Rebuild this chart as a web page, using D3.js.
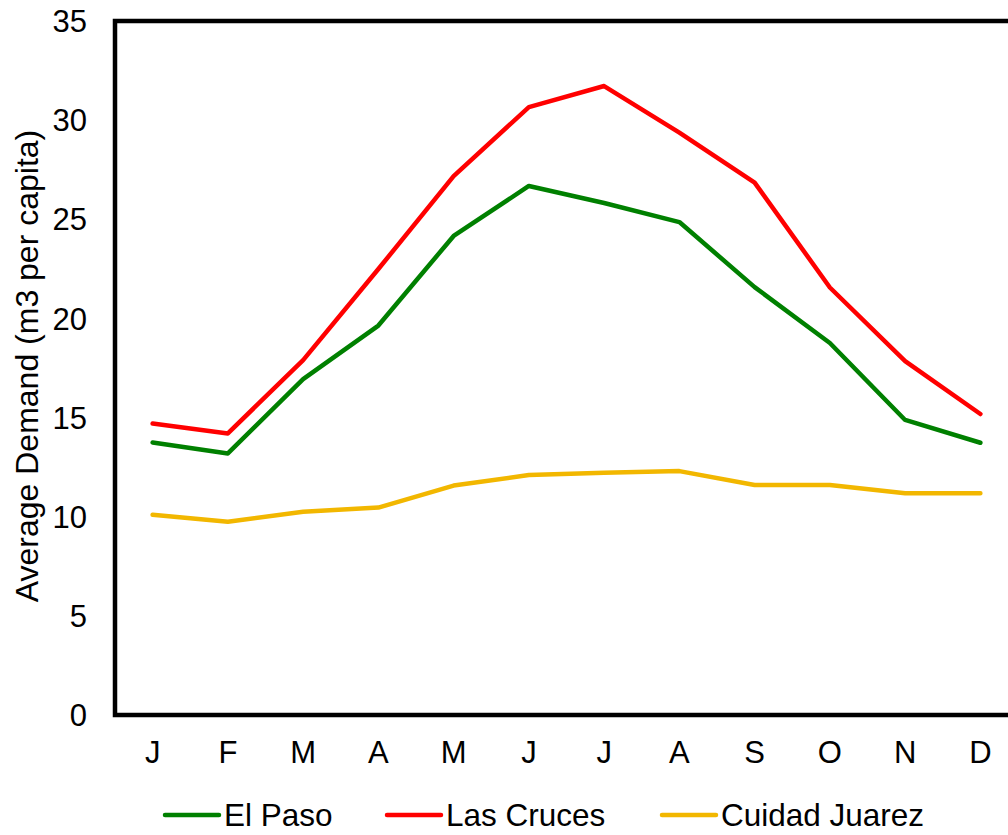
<!DOCTYPE html>
<html>
<head>
<meta charset="utf-8">
<script src="https://d3js.org/d3.v7.min.js"></script>
<style>
  html, body { margin: 0; padding: 0; background: #fff; }
  svg { display: block; font-family: "Liberation Sans", Arial, sans-serif; }
</style>
</head>
<body>
<svg id="chart" width="1008" height="835"></svg>
<script>
// Data
const months = ['J', 'F', 'M', 'A', 'M', 'J', 'J', 'A', 'S', 'O', 'N', 'D'];
const elPaso = [13.74, 13.19, 16.94, 19.64, 24.16, 26.68, 25.82, 24.86, 21.58, 18.76, 14.88, 13.73];
const lasCruces = [14.70, 14.20, 17.90, 22.49, 27.18, 30.66, 31.72, 29.37, 26.85, 21.56, 17.85, 15.18];
const juarez = [10.10, 9.75, 10.25, 10.46, 11.57, 12.10, 12.22, 12.30, 11.60, 11.60, 11.18, 11.18];
const yTicks = [0, 5, 10, 15, 20, 25, 30, 35];

const series = [
  { name: 'El Paso', values: elPaso, color: '#008000' },
  { name: 'Las Cruces', values: lasCruces, color: '#ff0000' },
  { name: 'Cuidad Juarez', values: juarez, color: '#f2b700' }
];

// Layout
const plot = { left: 115, right: 1018, top: 21, bottom: 715 };
const svg = d3.select('#chart');

const x = d3.scalePoint()
  .domain(d3.range(months.length))
  .range([plot.left, plot.right])
  .padding(0.5);

const y = d3.scaleLinear()
  .domain([0, 35])
  .range([plot.bottom, plot.top]);

// Y tick labels
svg.append('g')
  .selectAll('text')
  .data(yTicks)
  .enter()
  .append('text')
  .attr('x', 87)
  .attr('y', d => y(d))
  .attr('dy', '0.36em')
  .attr('text-anchor', 'end')
  .attr('font-size', 31)
  .text(d => d);

// X tick labels
svg.append('g')
  .selectAll('text')
  .data(months)
  .enter()
  .append('text')
  .attr('x', (d, i) => x(i))
  .attr('y', 763)
  .attr('text-anchor', 'middle')
  .attr('font-size', 31)
  .text(d => d);

// Axis title
svg.append('text')
  .attr('transform', `translate(38, 366) rotate(-90)`)
  .attr('text-anchor', 'middle')
  .attr('font-size', 32)
  .text('Average Demand (m3 per capita)');

// Series lines
const line = d3.line()
  .x((d, i) => x(i))
  .y(d => y(d));

svg.append('g')
  .selectAll('path')
  .data(series)
  .enter()
  .append('path')
  .attr('d', d => line(d.values))
  .attr('fill', 'none')
  .attr('stroke', d => d.color)
  .attr('stroke-width', 4.5)
  .attr('stroke-linejoin', 'round')
  .attr('stroke-linecap', 'round');

// Plot frame
svg.append('rect')
  .attr('x', plot.left)
  .attr('y', plot.top)
  .attr('width', plot.right - plot.left)
  .attr('height', plot.bottom - plot.top)
  .attr('fill', 'none')
  .attr('stroke', '#000')
  .attr('stroke-width', 4.5);

// Legend
const legendX = [165, 387, 662];
const legend = svg.append('g')
  .selectAll('g')
  .data(series)
  .enter()
  .append('g')
  .attr('transform', (d, i) => `translate(${legendX[i]}, 815)`);

legend.append('line')
  .attr('x1', 0)
  .attr('x2', 54)
  .attr('stroke', d => d.color)
  .attr('stroke-width', 4.5)
  .attr('stroke-linecap', 'round');

legend.append('text')
  .attr('x', 59)
  .attr('dy', '0.36em')
  .attr('font-size', 31.5)
  .text(d => d.name);
</script>
</body>
</html>
